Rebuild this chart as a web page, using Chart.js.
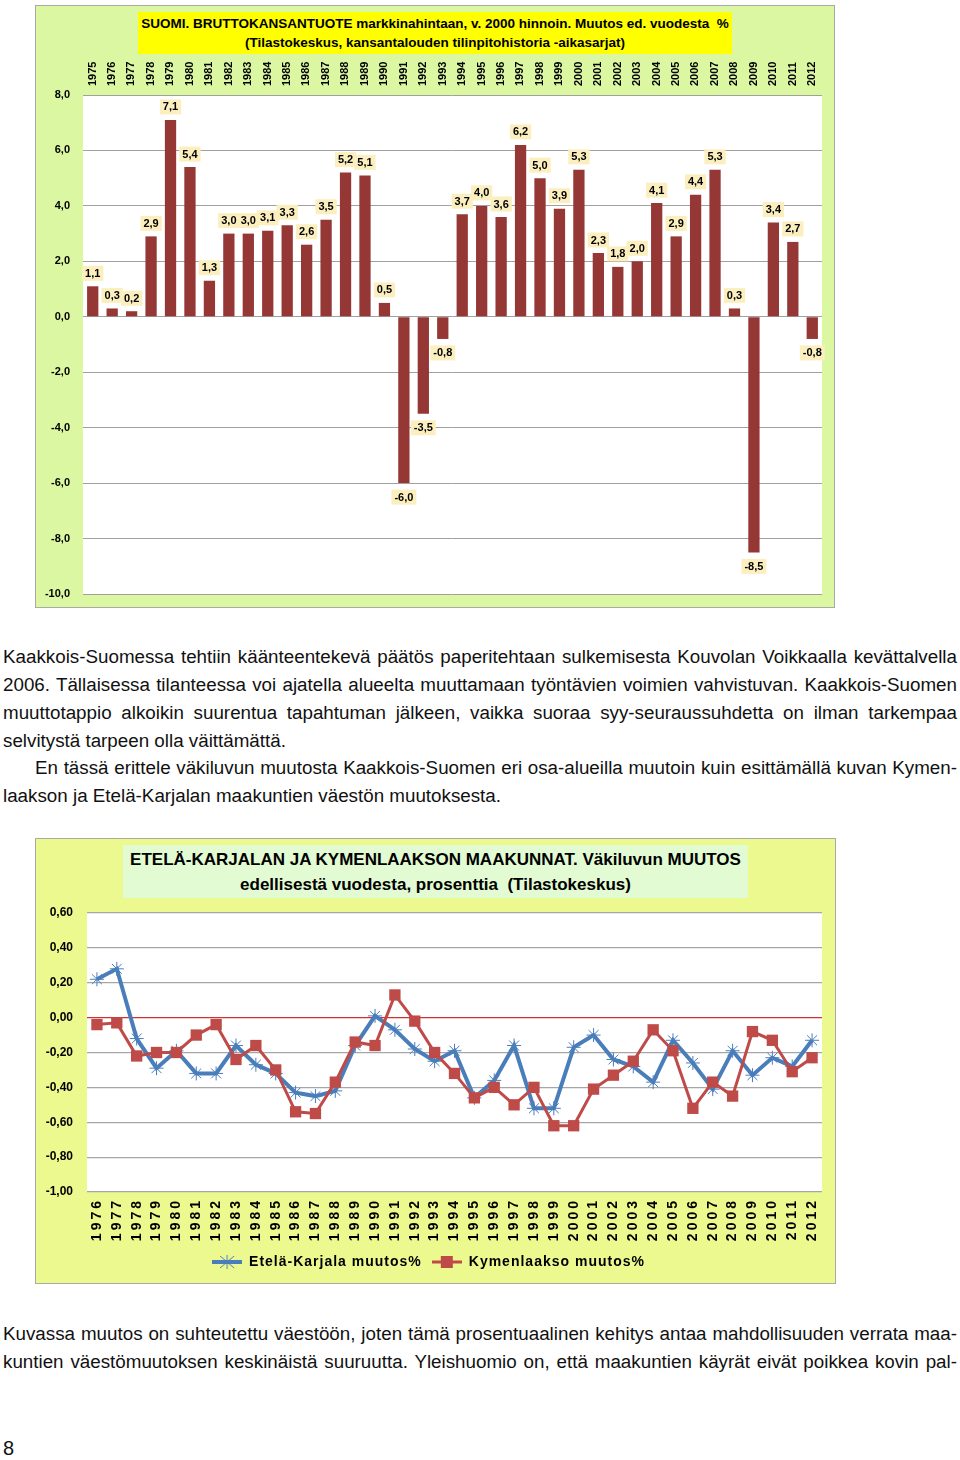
<!DOCTYPE html>
<html><head><meta charset="utf-8">
<script src="https://cdn.jsdelivr.net/npm/chart.js@4/dist/chart.umd.min.js"></script>
<style>
html,body{margin:0;padding:0;background:#fff;}
body{width:960px;height:1460px;position:relative;overflow:hidden;font-family:"Liberation Sans",Arial,sans-serif;}
.box{position:absolute;border:1px solid #a9a9a9;box-sizing:border-box;}
#box1{left:35px;top:5px;width:800px;height:603px;background:#dcf7a2;}
#box2{left:35px;top:838px;width:801px;height:446px;background:#ecf98f;}
#c1{position:absolute;left:35px;top:5px;}
#c2{position:absolute;left:35px;top:838px;}
.title{position:absolute;font-weight:bold;text-align:center;color:#000;box-sizing:border-box;}
#t1{left:138px;top:12px;width:594px;height:42px;background:#ffff00;font-size:13.5px;line-height:19px;padding-top:2px;}
#t2{left:123px;top:845px;width:625px;height:53px;background:#e2fbd2;font-size:17px;line-height:25px;padding-top:2px;}
.ln{position:absolute;left:3px;width:954px;height:28px;font-family:"Liberation Sans Narrow","Nimbus Sans Narrow","Arial Narrow",sans-serif;font-size:18.8px;line-height:28px;color:#111;}
.j{text-align:justify;text-align-last:justify;}
</style>
</head>
<body>
<div class="box" id="box1"></div>
<div class="box" id="box2"></div>
<canvas id="c1" width="800" height="603"></canvas>
<canvas id="c2" width="801" height="446"></canvas>
<div class="title" id="t1">SUOMI. BRUTTOKANSANTUOTE markkinahintaan, v. 2000 hinnoin. Muutos ed. vuodesta&nbsp; %<br>(Tilastokeskus, kansantalouden tilinpitohistoria -aikasarjat)</div>
<div class="title" id="t2">ETELÄ-KARJALAN JA KYMENLAAKSON MAAKUNNAT. Väkiluvun MUUTOS<br>edellisestä vuodesta, prosenttia&nbsp; (Tilastokeskus)</div>

<div class="ln j" style="top:643px">Kaakkois-Suomessa tehtiin käänteentekevä päätös paperitehtaan sulkemisesta Kouvolan Voikkaalla kevättalvella</div>
<div class="ln j" style="top:671px">2006. Tällaisessa tilanteessa voi ajatella alueelta muuttamaan työntävien voimien vahvistuvan. Kaakkois-Suomen</div>
<div class="ln j" style="top:699px">muuttotappio alkoikin suurentua tapahtuman jälkeen, vaikka suoraa syy-seuraussuhdetta on ilman tarkempaa</div>
<div class="ln" style="top:727px">selvitystä tarpeen olla väittämättä.</div>
<div class="ln j" style="top:754px;left:35px;width:922px">En tässä erittele väkiluvun muutosta Kaakkois-Suomen eri osa-alueilla muutoin kuin esittämällä kuvan Kymen-</div>
<div class="ln" style="top:782px">laakson ja Etelä-Karjalan maakuntien väestön muutoksesta.</div>
<div class="ln j" style="top:1320px">Kuvassa muutos on suhteutettu väestöön, joten tämä prosentuaalinen kehitys antaa mahdollisuuden verrata maa-</div>
<div class="ln j" style="top:1348px">kuntien väestömuutoksen keskinäistä suuruutta. Yleishuomio on, että maakuntien käyrät eivät poikkea kovin pal-</div>
<div class="ln" style="top:1434px;font-size:20px">8</div>

<script>
const years1 = ['1975','1976','1977','1978','1979','1980','1981','1982','1983','1984','1985','1986','1987','1988','1989','1990','1991','1992','1993','1994','1995','1996','1997','1998','1999','2000','2001','2002','2003','2004','2005','2006','2007','2008','2009','2010','2011','2012'];
const gdpChange = [1.1,0.3,0.2,2.9,7.1,5.4,1.3,3.0,3.0,3.1,3.3,2.6,3.5,5.2,5.1,0.5,-6.0,-3.5,-0.8,3.7,4.0,3.6,6.2,5.0,3.9,5.3,2.3,1.8,2.0,4.1,2.9,4.4,5.3,0.3,-8.5,3.4,2.7,-0.8];
const gdpTicks = {min:-10, max:8, step:2};

const years2 = ['1976','1977','1978','1979','1980','1981','1982','1983','1984','1985','1986','1987','1988','1989','1990','1991','1992','1993','1994','1995','1996','1997','1998','1999','2000','2001','2002','2003','2004','2005','2006','2007','2008','2009','2010','2011','2012'];
const etelaKarjala = [0.22,0.28,-0.12,-0.29,-0.19,-0.32,-0.32,-0.16,-0.27,-0.32,-0.43,-0.45,-0.42,-0.16,0.01,-0.07,-0.18,-0.25,-0.19,-0.46,-0.36,-0.16,-0.52,-0.52,-0.17,-0.10,-0.24,-0.28,-0.37,-0.13,-0.26,-0.41,-0.19,-0.33,-0.23,-0.28,-0.13];
const kymenlaakso = [-0.04,-0.03,-0.22,-0.20,-0.20,-0.10,-0.04,-0.24,-0.16,-0.30,-0.54,-0.55,-0.37,-0.14,-0.16,0.13,-0.02,-0.20,-0.32,-0.46,-0.40,-0.50,-0.40,-0.62,-0.62,-0.41,-0.33,-0.25,-0.07,-0.19,-0.52,-0.37,-0.45,-0.08,-0.13,-0.31,-0.23];
const popTicks = {min:-1, max:0.6, step:0.2};
const seriesNames = ['Etelä-Karjala muutos%','Kymenlaakso muutos%'];

const FAM = '"Liberation Sans", Arial, sans-serif';
const plotBg = {id:'plotBg', beforeDraw(chart){const {ctx, chartArea:a} = chart; ctx.save(); ctx.fillStyle='#fff'; ctx.fillRect(a.left, a.top, a.right-a.left, a.bottom-a.top); ctx.restore();}};
const barLabels = {id:'barLabels', afterDatasetsDraw(chart){
  const ctx = chart.ctx, meta = chart.getDatasetMeta(0), vals = chart.data.datasets[0].data;
  ctx.save(); ctx.font = 'bold 11px ' + FAM; ctx.textAlign='center'; ctx.textBaseline='middle';
  meta.data.forEach((bar,i)=>{
    const v = vals[i]; const t = v.toFixed(1).replace('.',',');
    const w = ctx.measureText(t).width + 6, h = 15;
    const cy = v >= 0 ? bar.y - 13 : bar.y + 14;
    ctx.fillStyle = '#fcefbf'; ctx.fillRect(bar.x - w/2, cy - h/2, w, h);
    ctx.fillStyle = '#000'; ctx.fillText(t, bar.x, cy + 0.5);
  });
  ctx.restore();
}};
function withSpacing(obj, method, sp){
  const orig = obj[method];
  obj[method] = function(...a){ const c = this.ctx; c.save(); c.letterSpacing = sp; const r = orig.apply(this, a); c.restore(); return r; };
}

new Chart(document.getElementById('c1'), {
  type:'bar',
  data:{labels:years1, datasets:[{data:gdpChange, backgroundColor:'#953735', barPercentage:0.58, categoryPercentage:1}]},
  options:{
    responsive:false, animation:false,
    layout:{padding:{left:0, right:13, top:0, bottom:14}},
    plugins:{legend:{display:false}, tooltip:{enabled:false}},
    scales:{
      x:{position:'top', grid:{display:false, drawTicks:false}, border:{display:false},
         ticks:{minRotation:90, maxRotation:90, autoSkip:false, labelOffset:13, color:'#000', font:{family:FAM, size:11, weight:'bold'}, padding:9},
         afterFit(s){s.height = 90;}},
      y:{min:gdpTicks.min, max:gdpTicks.max,
         ticks:{stepSize:gdpTicks.step, color:'#000', font:{family:FAM, size:11, weight:'bold'}, padding:13, callback:v=>v.toFixed(1).replace('.',',')},
         grid:{color:'#a0a0a0', drawTicks:false, lineWidth:1}, border:{display:false},
         afterFit(s){s.width = 48; s.paddingTop = 0; s.paddingBottom = 0;}}
    }
  },
  plugins:[plotBg, barLabels]
});

function legendIcon(color, style, lw){
  const c = document.createElement('canvas'); c.width = 30; c.height = 14;
  const x = c.getContext('2d');
  x.strokeStyle = color; x.lineWidth = lw; x.beginPath(); x.moveTo(0,7); x.lineTo(30,7); x.stroke();
  if(style === 'rect'){ x.fillStyle = color; x.fillRect(9,1,12,12); }
  else { x.lineWidth = 1; x.beginPath(); x.moveTo(8,1); x.lineTo(22,13); x.moveTo(22,1); x.lineTo(8,13); x.moveTo(15,0); x.lineTo(15,14); x.stroke(); }
  return c;
}
const icons = [legendIcon('#4a7ebb','star',4), legendIcon('#be4b48','rect',3)];

const chart2 = new Chart(document.getElementById('c2'), {
  type:'line',
  data:{labels:years2, datasets:[
    {label:seriesNames[0], data:etelaKarjala, order:1, borderColor:'#4a7ebb', backgroundColor:'#4a7ebb', borderWidth:4, pointStyle:'star', pointRadius:7, pointBorderWidth:1, pointBorderColor:'#4a7ebb', tension:0},
    {label:seriesNames[1], data:kymenlaakso, order:0, borderColor:'#be4b48', backgroundColor:'#be4b48', borderWidth:3, pointStyle:'rect', pointRadius:8, pointBorderWidth:0, tension:0}
  ]},
  options:{
    responsive:false, animation:false,
    layout:{padding:{left:0, right:14, top:75, bottom:5}},
    plugins:{tooltip:{enabled:false},
      legend:{position:'bottom', labels:{usePointStyle:true, pointStyleWidth:30, padding:10, color:'#000', font:{family:FAM, size:14, weight:'bold'},
        generateLabels(chart){ return chart.data.datasets.map((d,i)=>({text:d.label, pointStyle:icons[i], fillStyle:d.borderColor, strokeStyle:d.borderColor, lineWidth:0, datasetIndex:i, fontColor:'#000'})); }}}},
    scales:{
      x:{offset:true, grid:{display:false, drawTicks:false}, border:{display:false},
         ticks:{minRotation:90, maxRotation:90, autoSkip:false, color:'#000', font:{family:FAM, size:14, weight:'bold'}, padding:6},
         afterFit(s){s.height = 53;}},
      y:{min:popTicks.min, max:popTicks.max,
         ticks:{stepSize:popTicks.step, color:'#000', font:{family:FAM, size:12, weight:'bold'}, padding:14, callback:v=>v.toFixed(2).replace('.',',')},
         grid:{color:(c)=>Math.abs(c.tick.value) < 1e-9 ? '#d03030' : '#a6a6a6', drawTicks:false, lineWidth:1.2}, border:{display:false},
         afterFit(s){s.width = 52;}}
    }
  },
  plugins:[plotBg]
});
withSpacing(chart2.scales.x, 'drawLabels', '3px');
withSpacing(chart2.legend, 'fit', '1px');
withSpacing(chart2.legend, 'draw', '1px');
chart2.update();
</script>
</body></html>
